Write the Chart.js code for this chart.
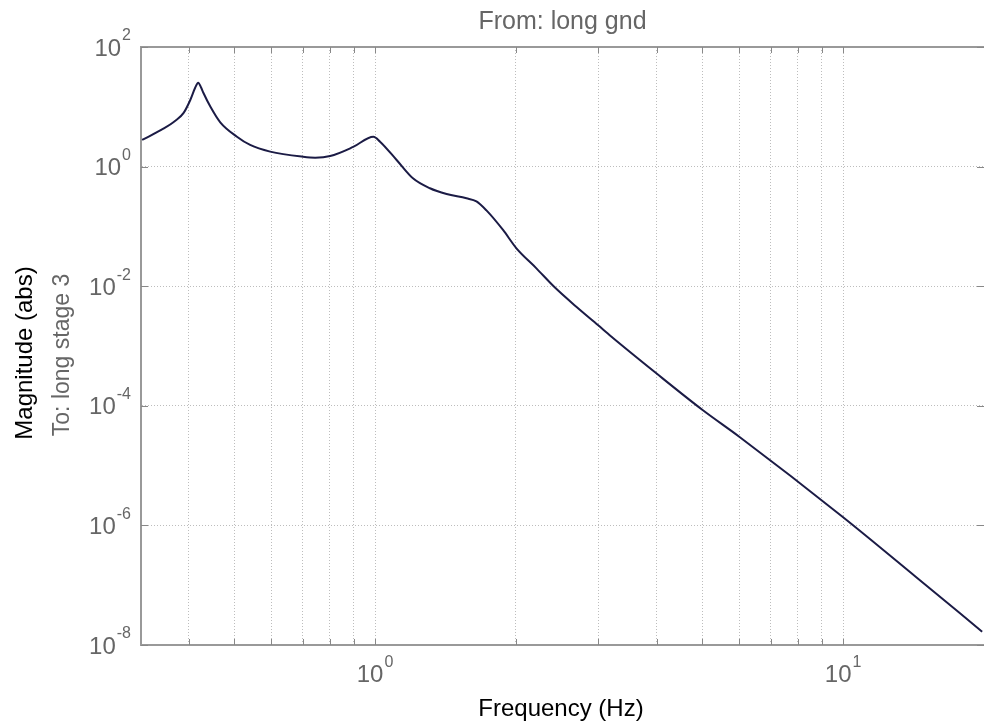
<!DOCTYPE html>
<html>
<head>
<meta charset="utf-8">
<script src="https://cdn.jsdelivr.net/npm/chart.js@4.4.1/dist/chart.umd.min.js"></script>
<style>
  body { margin: 0; background: #fff; }
  #wrap { width: 984px; height: 727px; }
</style>
</head>
<body>
<div id="wrap"><canvas id="bodeChart" width="984" height="727"></canvas></div>
<script>
// values
const freqHz = [0.318, 0.353, 0.375, 0.390, 0.403, 0.413, 0.419, 0.425, 0.430, 0.445, 0.467,
    0.507, 0.541, 0.597, 0.702, 0.745, 0.802, 0.898, 0.992, 1.025, 1.112, 1.205, 1.31, 1.422,
    1.568, 1.647, 1.73, 1.877, 2.005, 2.212, 2.42, 2.692, 2.993, 3.196, 3.99, 5.01, 6.0, 9.97,
    14.29, 19.82];
const magnitude = [2.79, 4.3, 5.9, 7.9, 13.0, 21.0, 25.3, 21.0, 17.0, 10.0, 5.5,
    3.16, 2.30, 1.78, 1.46, 1.41, 1.50, 2.13, 3.16, 2.61, 1.29, 0.637, 0.434, 0.348,
    0.295, 0.262, 0.185, 0.0871, 0.043, 0.0199, 0.00959, 0.00454, 0.00224, 0.00144, 3.49e-4,
    8.5e-5, 3.04e-5, 1.40e-6, 1.39e-7, 1.67e-8];

const xTicks = [0.4, 0.5, 0.6, 0.7, 0.8, 0.9, 1, 2, 3, 4, 5, 6, 7, 8, 9, 10];
const xLabelTicks = [1, 10];
const yTicks = [1e-8, 1e-6, 1e-4, 1e-2, 1, 1e2];

const titleText = 'From: long gnd';
const xTitle = 'Frequency (Hz)';
const yTitle = 'Magnitude (abs)';
const yTitle2 = 'To: long stage 3';

const FONT = "'Liberation Sans', Arial, Helvetica, sans-serif";
const grayText = '#666666';
const axisColor = '#999999';
const gridColor = '#bdbdbd';

// draws frame, inward ticks, 10^n labels and titles
const bodePlugin = {
    id: 'bode',
    afterDraw(chart) {
        const { ctx, chartArea: a, scales: { x, y } } = chart;
        ctx.save();

        ctx.strokeStyle = axisColor;
        ctx.lineWidth = 2;
        ctx.beginPath();
        ctx.moveTo(a.left, a.top);
        ctx.lineTo(a.right, a.top);
        ctx.stroke();

        ctx.lineWidth = 1;
        ctx.strokeStyle = '#888';
        ctx.beginPath();
        x.ticks.forEach(t => {
            const px = Math.round(x.getPixelForValue(t.value)) + 0.5;
            ctx.moveTo(px, a.bottom); ctx.lineTo(px, a.bottom - 6);
            ctx.moveTo(px, a.top); ctx.lineTo(px, a.top + 6);
        });
        y.ticks.forEach(t => {
            const py = Math.round(y.getPixelForValue(t.value)) + 0.5;
            ctx.moveTo(a.left, py); ctx.lineTo(a.left + 7, py);
            ctx.moveTo(a.right, py); ctx.lineTo(a.right - 7, py);
        });
        ctx.stroke();

        ctx.fillStyle = grayText;
        ctx.textBaseline = 'middle';
        const baseFont = '24px ' + FONT;
        const expFont = '16px ' + FONT;

        // y labels
        yTicks.forEach(v => {
            const py = y.getPixelForValue(v);
            const e = String(Math.round(Math.log10(v)));
            ctx.font = expFont;
            const ew = ctx.measureText(e).width;
            const ex = a.left - 10 - ew;
            ctx.textAlign = 'left';
            ctx.fillText(e, ex, py - 11);
            ctx.font = baseFont;
            ctx.textAlign = 'right';
            ctx.fillText('10', ex - 1, py + 2);
        });

        // x labels
        xLabelTicks.forEach(v => {
            const px = x.getPixelForValue(v);
            const e = String(Math.round(Math.log10(v)));
            ctx.font = baseFont;
            const bw = ctx.measureText('10').width;
            ctx.font = expFont;
            const ew = ctx.measureText(e).width;
            const left = px - (bw + 1 + ew) / 2;
            ctx.textAlign = 'left';
            ctx.font = baseFont;
            ctx.fillText('10', left, a.bottom + 30);
            ctx.font = expFont;
            ctx.fillText(e, left + bw + 1, a.bottom + 18);
        });

        // titles
        ctx.textAlign = 'center';
        ctx.font = '25px ' + FONT;
        ctx.fillStyle = grayText;
        ctx.fillText(titleText, (a.left + a.right) / 2, 22);

        ctx.fillStyle = '#000';
        ctx.font = '24px ' + FONT;
        ctx.fillText(xTitle, 561, 709);

        ctx.save();
        ctx.translate(25, 353);
        ctx.rotate(-Math.PI / 2);
        ctx.fillText(yTitle, 0, 0);
        ctx.restore();

        ctx.save();
        ctx.translate(63, 355);
        ctx.rotate(-Math.PI / 2);
        ctx.font = '23px ' + FONT;
        ctx.fillStyle = grayText;
        ctx.fillText(yTitle2, 0, 0);
        ctx.restore();

        ctx.restore();
    }
};

const ctx = document.getElementById('bodeChart').getContext('2d');
new Chart(ctx, {
    type: 'line',
    data: {
        datasets: [{
            data: freqHz.map((f, i) => ({ x: f, y: magnitude[i] })),
            borderColor: '#1b1b45',
            borderWidth: 2,
            pointRadius: 0,
            fill: false,
            cubicInterpolationMode: 'monotone'
        }]
    },
    options: {
        responsive: false,
        animation: false,
        layout: { padding: { left: 141, top: 47, right: 0, bottom: 82 } },
        plugins: {
            legend: { display: false },
            tooltip: { enabled: false }
        },
        scales: {
            x: {
                type: 'logarithmic',
                bounds: 'data',
                min: Math.pow(10, -0.5),
                max: 20,
                afterBuildTicks: s => { s.ticks = xTicks.map(v => ({ value: v })); },
                ticks: { display: false },
                grid: { color: gridColor, lineWidth: 1, drawTicks: false },
                border: { color: axisColor, width: 2, dash: [1, 2] }
            },
            y: {
                type: 'logarithmic',
                bounds: 'data',
                min: 1e-8,
                max: 1e2,
                afterBuildTicks: s => { s.ticks = yTicks.map(v => ({ value: v })); },
                ticks: { display: false },
                grid: { color: gridColor, lineWidth: 1, drawTicks: false },
                border: { color: axisColor, width: 2, dash: [1, 2] }
            }
        }
    },
    plugins: [bodePlugin]
});
</script>
</body>
</html>
